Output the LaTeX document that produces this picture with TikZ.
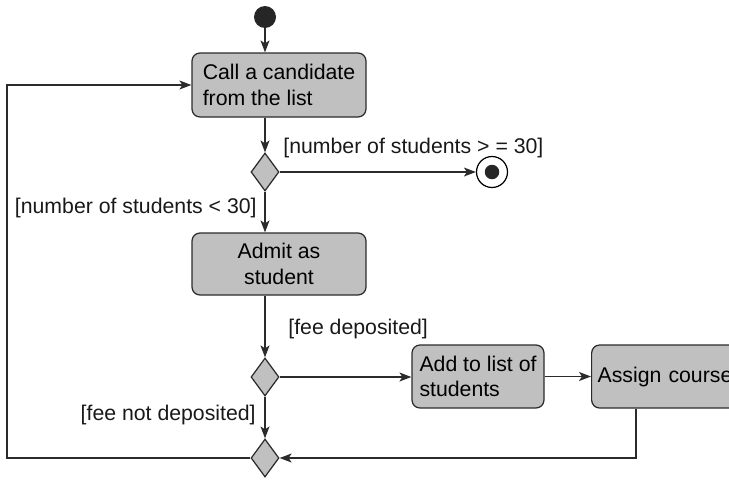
\documentclass[tikz,border=0pt]{standalone}
\usepackage{fontspec}
\setmainfont{Liberation Sans}
\usepackage{xcolor}
\usepackage{tikz}
\usetikzlibrary{shapes.geometric,arrows.meta}

\definecolor{boxgray}{HTML}{C0C0C0}
\definecolor{linegray}{HTML}{2B2B2B}

\begin{document}
\begin{tikzpicture}[
		font=\fontsize{12.1}{14.4}\selectfont,
		action/.style={draw=linegray, fill=boxgray, line width=0.7pt, rounded corners=0.16cm, inner sep=0pt},
		branch/.style={diamond, draw=linegray, fill=boxgray, line width=0.7pt, inner sep=0pt, minimum width=0.56cm, minimum height=0.76cm},
		startdot/.style={circle, fill=black!85, inner sep=0pt, minimum size=0.44cm},
		enddot/.style={circle, draw=black, line width=0.7pt, inner sep=0pt, minimum size=0.62cm,
			path picture={\fill[black!85] (path picture bounding box.center) circle (0.145cm);}},
		guard/.style={inner sep=0pt, text=black!90},
		flow/.style={draw=linegray, line width=0.7pt, -{Stealth[length=0.24cm, width=0.18cm, inset=0.06cm]}}
	]
	\useasboundingbox (0,0) rectangle (14.58,-9.58);

	% activity nodes
	\node[startdot] (start) at (5.30,-0.34) {};
	\node[action, minimum width=3.48cm, minimum height=1.28cm, align=left] (call) at (5.58,-1.70) {Call a candidate\\from the list};
	\node[branch] (d1) at (5.30,-3.44) {};
	\node[enddot] (end) at (9.84,-3.44) {};
	\node[action, minimum width=3.48cm, minimum height=1.24cm, align=center] (admit) at (5.58,-5.28) {Admit as\\student};
	\node[branch] (d2) at (5.30,-7.54) {};
	\node[action, minimum width=2.64cm, minimum height=1.26cm, align=left] (addlist) at (9.56,-7.53) {Add to list of\\students};
	\node[action, anchor=west, minimum height=1.26cm, text width=3.36cm, inner xsep=0.12cm, align=left] (assign) at (11.82,-7.53) {Assign course};
	\node[branch] (d3) at (5.30,-9.16) {};

	% guards
	\node[guard, anchor=west] (gfull) at (5.66,-2.95) {[number of students > = 30]};
	\node[guard, anchor=east] (gopen) at (5.14,-4.15) {[number of students < 30]};
	\node[guard, anchor=west] (gpaid) at (5.76,-6.57) {[fee deposited]};
	\node[guard, anchor=east] (gunpaid) at (5.12,-8.30) {[fee not deposited]};

	\coordinate (loop) at (0.14,0);
	\coordinate (back) at ([xshift=0.9cm]assign.south west);

	% transitions
	\draw[flow] (start) -- (start |- call.north);
	\draw[flow] (call.south -| d1) -- (d1.north);
	\draw[flow] (d1.east) -- (end.west);
	\draw[flow] (d1.south) -- (admit.north -| d1);
	\draw[flow] (admit.south -| d2) -- (d2.north);
	\draw[flow] (d2.east) -- (d2.east -| addlist.west);
	\draw[flow] (addlist.east) -- (addlist.east -| assign.west);
	\draw[flow] (d2.south) -- (d3.north);
	\draw[flow] (back) |- (d3.east);
	\draw[flow] (d3.west) -| (loop |- call.west) -- (call.west);
\end{tikzpicture}
\end{document}
